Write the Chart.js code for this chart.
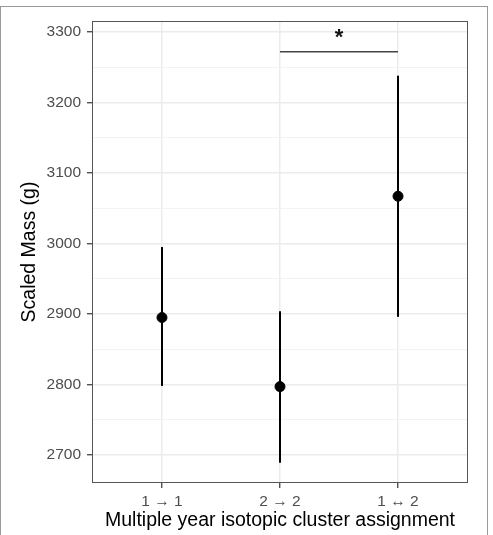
<!DOCTYPE html>
<html lang="en">
<head>
  <meta charset="UTF-8">
  <title>Scaled mass by isotopic cluster assignment</title>
  <script src="https://cdn.jsdelivr.net/npm/chart.js"></script>
  <style>
    body { margin: 0; background: #fff; }
    #frame { position: absolute; left: 0; top: 6px; width: 488px; height: 600px; border: 1.5px solid #999; box-sizing: border-box; }
    #massChart { position: absolute; left: 0; top: 0; }
  </style>
</head>
<body>
<div id="frame"></div>
<canvas id="massChart" width="493" height="535"></canvas>

<script>
const groups = ["1 \u2192 1", "2 \u2192 2", "1 \u2194 2"];
const means = [2895, 2797, 3067];
const lower = [2798, 2689, 2896];
const upper = [2995, 2904, 3238];
const yTicks = [2700, 2750, 2800, 2850, 2900, 2950, 3000, 3050, 3100, 3150, 3200, 3250, 3300];
// significance bracket between group 2 and group 3
const bracketFrom = 1, bracketTo = 2, bracketY = 3272, bracketLabel = "*";

const FONT = "'Liberation Sans', Arial, sans-serif";

const datasets = [{
  label: "mean",
  data: means.map((m, i) => ({ x: i, y: m })),
  backgroundColor: "#000",
  borderColor: "#000",
  pointRadius: 5,
  order: -1
}];
groups.forEach((g, i) => {
  datasets.push({
    label: "ci " + g,
    data: [{ x: i, y: lower[i] }, { x: i, y: upper[i] }],
    showLine: true,
    borderColor: "#000",
    borderWidth: 2,
    pointRadius: 0
  });
});
datasets.push({
  label: "bracket",
  data: [{ x: bracketFrom, y: bracketY }, { x: bracketTo, y: bracketY }],
  showLine: true,
  borderColor: "#444",
  borderWidth: 1.5,
  pointRadius: 0
});

const panelBox = {
  id: "panelBox",
  afterDatasetsDraw(chart) {
    const { ctx, chartArea: a, scales } = chart;
    ctx.save();
    ctx.strokeStyle = "#555";
    ctx.lineWidth = 1;
    ctx.strokeRect(a.left + 0.5, a.top + 0.5, a.right - a.left - 1, a.bottom - a.top - 1);
    // star above the bracket
    ctx.fillStyle = "#111";
    ctx.font = "bold 22px " + FONT;
    ctx.textAlign = "center";
    ctx.textBaseline = "middle";
    const sx = scales.x.getPixelForValue((bracketFrom + bracketTo) / 2);
    const sy = scales.y.getPixelForValue(bracketY) - 14;
    ctx.fillText(bracketLabel, sx, sy);
    ctx.restore();
  }
};

new Chart(document.getElementById("massChart"), {
  type: "scatter",
  data: { datasets },
  options: {
    responsive: false,
    animation: false,
    layout: { padding: { top: 21, right: 25, left: 0, bottom: 0 } },
    plugins: { legend: { display: false }, tooltip: { enabled: false } },
    scales: {
      x: {
        type: "linear",
        min: -0.593,
        max: 2.593,
        afterBuildTicks: axis => { axis.ticks = groups.map((g, i) => ({ value: i })); },
        afterFit: axis => { axis.height = 52; },
        grid: { color: "#ebebeb", lineWidth: 1.5, tickLength: 5, tickColor: "#333", tickWidth: 1.2 },
        border: { display: false },
        ticks: {
          autoSkip: false, maxRotation: 0, padding: 4,
          color: "#4d4d4d", font: { family: FONT, size: 15.5 },
          callback: v => groups[v]
        },
        title: {
          display: true, text: "Multiple year isotopic cluster assignment",
          color: "#000", font: { family: FONT, size: 19.5 },
          padding: { top: 0, bottom: 3 }
        }
      },
      y: {
        min: 2660.3,
        max: 3315.6,
        afterBuildTicks: axis => { axis.ticks = yTicks.map(v => ({ value: v })); },
        afterFit: axis => { axis.width = 92; },
        grid: {
          color: c => c.tick && c.tick.value % 100 === 0 ? "#ebebeb" : "#f3f3f3",
          lineWidth: c => c.tick && c.tick.value % 100 === 0 ? 1.5 : 1,
          tickLength: 5,
          tickColor: c => c.tick && c.tick.value % 100 === 0 ? "#333" : "rgba(0,0,0,0)",
          tickWidth: 1.2
        },
        border: { display: false },
        ticks: {
          autoSkip: false, padding: 6,
          color: "#4d4d4d", font: { family: FONT, size: 15.5 },
          callback: v => v % 100 === 0 ? String(v) : ""
        },
        title: {
          display: true, text: "Scaled Mass (g)",
          color: "#000", font: { family: FONT, size: 19.5 },
          padding: { top: 18, bottom: 0 }
        }
      }
    }
  },
  plugins: [panelBox]
});
</script>
</body>
</html>
